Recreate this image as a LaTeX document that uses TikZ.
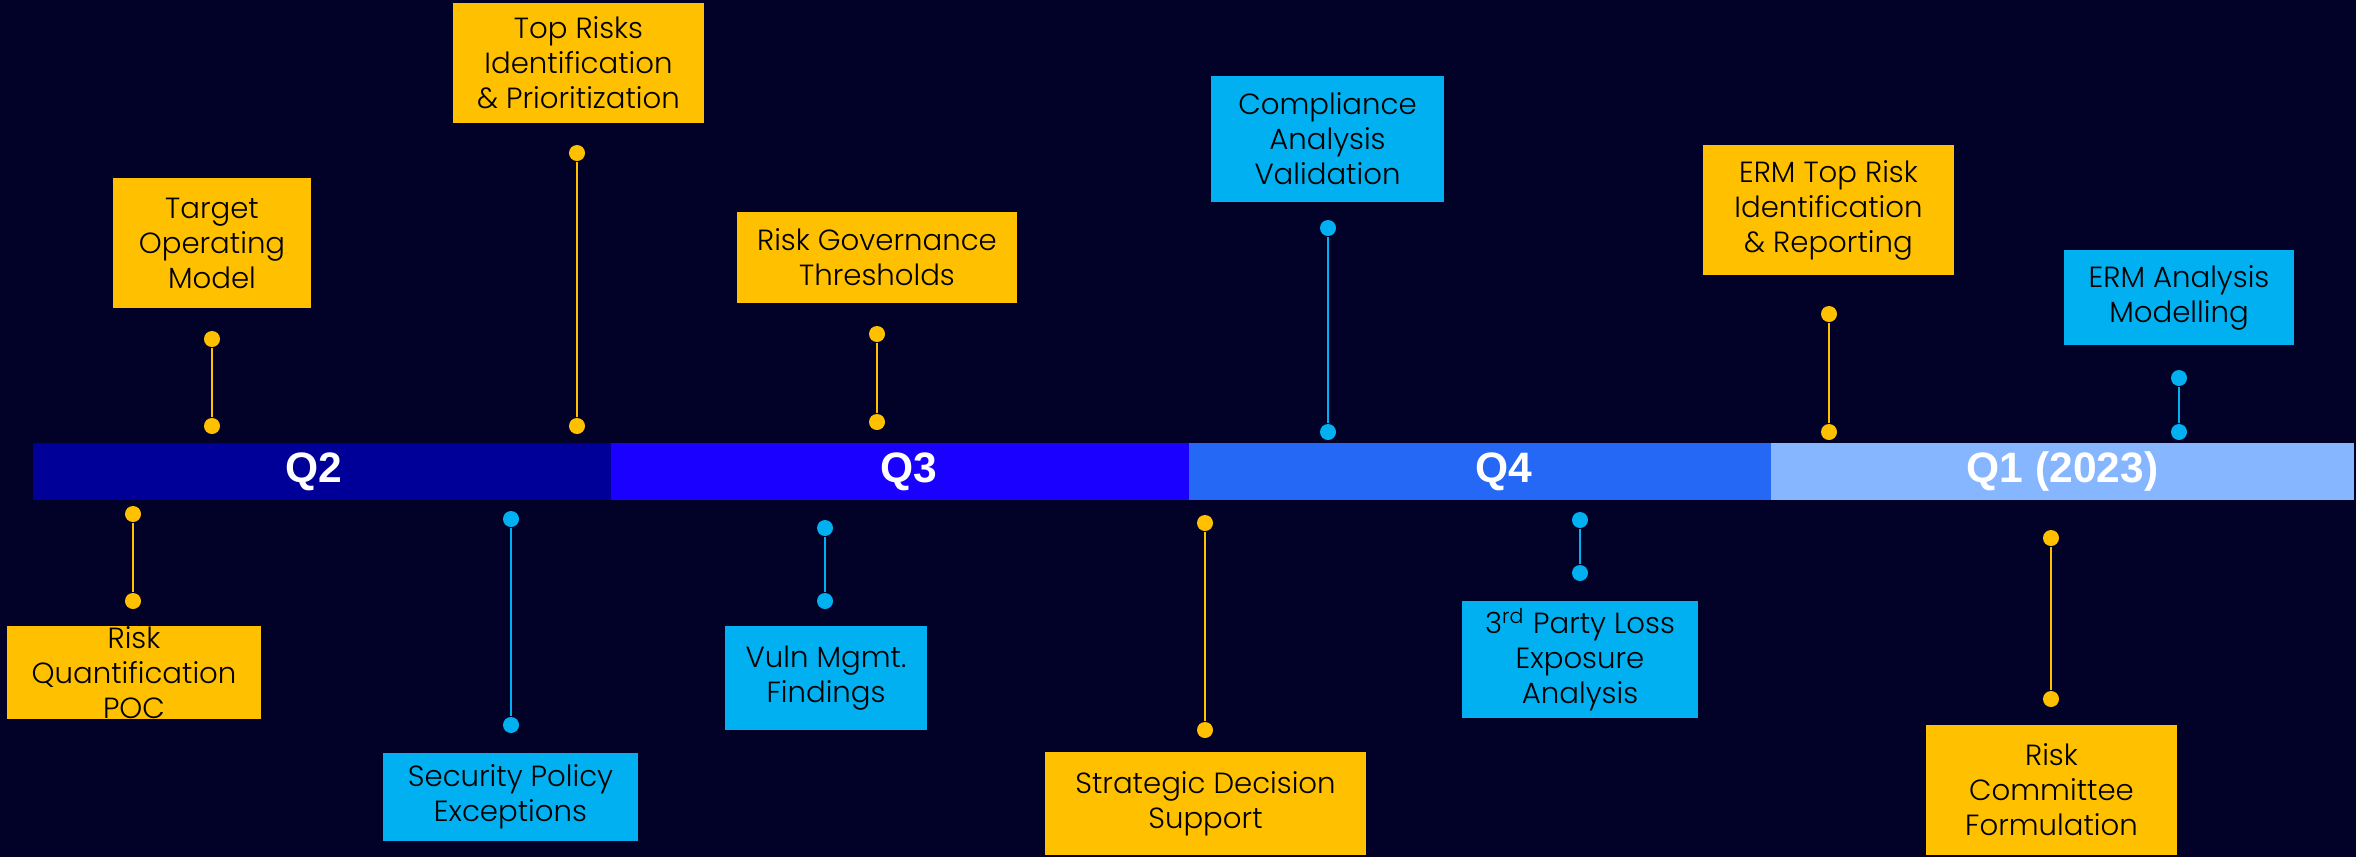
\documentclass[tikz,border=0pt]{standalone}
\usepackage{fontspec}
\setmainfont{Poppins}[UprightFont=* Light]
\newfontfamily\quarterfont{Liberation Sans}
\usepackage{tikz}
\usetikzlibrary{calc,positioning}
\definecolor{nightbg}{RGB}{2,2,40}
\definecolor{goldbox}{RGB}{255,192,0}
\definecolor{skybox}{RGB}{0,176,240}
\definecolor{qtwo}{RGB}{0,0,153}
\definecolor{qthree}{RGB}{25,0,255}
\definecolor{qfour}{RGB}{36,104,245}
\definecolor{qone}{RGB}{133,182,255}
\tikzset{
   milestone node/.style={rectangle,inner sep=0pt,align=center,text=black,font=\fontsize{8.3}{9.96}\selectfont},
   gold node/.style={milestone node,fill=goldbox},
   sky node/.style={milestone node,fill=skybox},
   box size/.style 2 args={minimum width=#1,minimum height=#2},
   gold dot/.style={circle,fill=goldbox,inner sep=0pt,minimum size=0.16cm},
   sky dot/.style={circle,fill=skybox,inner sep=0pt,minimum size=0.16cm}
}

\begin{document}
\begin{tikzpicture}[x=0.01cm,y=-0.01cm,
                    stem/.style={line width=0.7pt},
                    quarter/.style={rectangle,inner sep=0pt,minimum height=0.57cm,text=white,
                                    font=\quarterfont\bfseries\fontsize{12.1}{14}\selectfont}]
\fill[nightbg] (0,0) rectangle (2356,857);
% timeline bar
\node[quarter,fill=qtwo,  minimum width=5.78cm] (q2) at (322,471.5)    {Q2\hspace*{0.16cm}};
\node[quarter,fill=qthree,minimum width=5.78cm] (q3) at (900,471.5)    {\hspace*{0.18cm}Q3};
\node[quarter,fill=qfour, minimum width=5.82cm] (q4) at (1480,471.5)   {\hspace*{0.48cm}Q4};
\node[quarter,fill=qone,  minimum width=5.83cm] (q1) at (2062.5,471.5) {Q1 (2023)};
%
% milestones above the bar
\node[gold node,box size={1.98cm}{1.30cm}] (tom)    at (212,243)    {Target\\Operating\\Model};
\node[gold node,box size={2.51cm}{1.20cm}] (trisk)  at (578.5,63)   {Top Risks\\Identification\\\& Prioritization};
\node[gold node,box size={2.80cm}{0.91cm}] (rgov)   at (877,257.5)  {Risk Governance\\Thresholds};
\node[sky node, box size={2.33cm}{1.26cm}] (comp)   at (1327.5,139) {Compliance\\Analysis\\Validation};
\node[gold node,box size={2.51cm}{1.30cm}] (ermtop) at (1828.5,210) {ERM Top Risk\\Identification\\\& Reporting};
\node[sky node, box size={2.30cm}{0.95cm}] (ermmod) at (2179,297.5) {ERM Analysis\\Modelling};
%
% milestones below the bar
\node[gold node,box size={2.54cm}{0.93cm}] (rqpoc)  at (134,672.5)  {Risk\\Quantification\\POC};
\node[sky node, box size={2.55cm}{0.88cm}] (secpol) at (510.5,797)  {Security Policy\\Exceptions};
\node[sky node, box size={2.02cm}{1.04cm}] (vuln)   at (826,678)    {Vuln Mgmt.\\Findings};
\node[gold node,box size={3.21cm}{1.03cm}] (strat)  at (1205.5,803.5) {Strategic Decision\\Support};
\node[sky node, box size={2.36cm}{1.17cm}] (third)  at (1580,659.5) {3\textsuperscript{rd} Party Loss\\Exposure\\Analysis};
\node[gold node,box size={2.51cm}{1.30cm}] (rcom)   at (2051.5,790) {Risk\\Committee\\Formulation};
%
% pins
\node[gold dot] (tom a)    at (212,339)  {};  \node[gold dot] (tom b)    at (212,426)  {};
\node[gold dot] (trisk a)  at (577,153)  {};  \node[gold dot] (trisk b)  at (577,426)  {};
\node[gold dot] (rgov a)   at (877,334)  {};  \node[gold dot] (rgov b)   at (877,422)  {};
\node[sky dot]  (comp a)   at (1328,228) {};  \node[sky dot]  (comp b)   at (1328,432) {};
\node[gold dot] (ermtop a) at (1829,314) {};  \node[gold dot] (ermtop b) at (1829,432) {};
\node[sky dot]  (ermmod a) at (2179,378) {};  \node[sky dot]  (ermmod b) at (2179,432) {};
\node[gold dot] (rqpoc a)  at (133,514)  {};  \node[gold dot] (rqpoc b)  at (133,601)  {};
\node[sky dot]  (secpol a) at (511,519)  {};  \node[sky dot]  (secpol b) at (511,725)  {};
\node[sky dot]  (vuln a)   at (825,528)  {};  \node[sky dot]  (vuln b)   at (825,601)  {};
\node[gold dot] (strat a)  at (1205,523) {};  \node[gold dot] (strat b)  at (1205,730) {};
\node[sky dot]  (third a)  at (1580,520) {};  \node[sky dot]  (third b)  at (1580,573) {};
\node[gold dot] (rcom a)   at (2051,538) {};  \node[gold dot] (rcom b)   at (2051,699) {};
%
\path[stem,draw=goldbox]
  (tom a) edge (tom b)
  (trisk a) edge (trisk b)
  (rgov a) edge (rgov b)
  (ermtop a) edge (ermtop b)
  (rqpoc a) edge (rqpoc b)
  (strat a) edge (strat b)
  (rcom a) edge (rcom b)
  ;
\path[stem,draw=skybox]
  (comp a) edge (comp b)
  (ermmod a) edge (ermmod b)
  (secpol a) edge (secpol b)
  (vuln a) edge (vuln b)
  (third a) edge (third b)
  ;
\end{tikzpicture}
\end{document}
